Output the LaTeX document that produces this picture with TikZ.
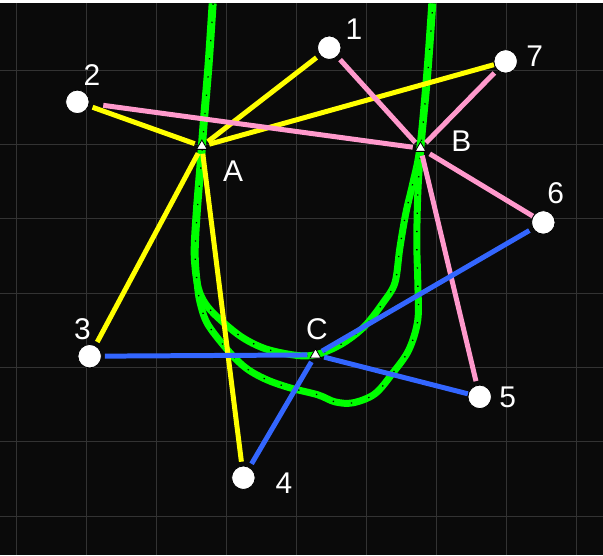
\documentclass[tikz,border=0pt]{standalone}
\usepackage{fontspec}
\setmainfont{Liberation Sans}
\usetikzlibrary{shapes.geometric}
\definecolor{bgc}{HTML}{0A0A0A}
\definecolor{gridc}{HTML}{333333}
\definecolor{yel}{HTML}{FFFF00}
\definecolor{pnk}{HTML}{FF99CC}
\definecolor{blu}{HTML}{3366FF}
\definecolor{grn}{HTML}{00FF00}
\pgfdeclarelayer{bg}
\pgfdeclarelayer{edges}
\pgfsetlayers{bg,edges,main}
\tikzset{
  pt/.style={circle, fill=white, draw=black, line width=0.8pt, minimum size=23.5pt, inner sep=0pt},
  tri/.style={regular polygon, regular polygon sides=3, fill=white, draw=black, line width=0.8pt, minimum size=12.5pt, inner sep=0pt},
  lbl/.style={text=white, inner sep=0pt, font=\fontsize{30}{36}\selectfont},
  edge/.style={line width=5pt, shorten <=4pt, shorten >=4pt},
  yedge/.style={edge, draw=yel},
  pedge/.style={edge, draw=pnk},
  bedge/.style={edge, draw=blu},
  gridline/.style={draw=gridc, line width=1pt},
  greenline/.style={draw=grn, line width=7pt, line join=round,
    postaction={draw=black, line width=1.3pt, dash pattern=on 1.3pt off 17pt}},
}
\begin{document}
\begin{tikzpicture}[x=1pt, y=-1pt]
\begin{pgfonlayer}{bg}
\fill[bgc] (0,0) rectangle (603,552);
\foreach \gx in {16.5,86.5,156.5,226.5,296.5,366.5,436.5,506.5,576.5}
  \draw[gridline] (\gx,0) -- (\gx,552);
\foreach \gy in {66.7,141.2,215.7,290.2,364.7,439.2,513.7}
  \draw[gridline] (0,\gy) -- (603,\gy);
% green curves
\draw[greenline] plot[smooth, tension=0.55] coordinates {
  (212,0) (208,60) (203,120) (200,160) (196,210) (194,250) (197,280)
  (203,297) (215,312) (240,333) (263,345) (287,351) (307,353) (325,349)
  (345,339) (365,323) (383,300) (395,280) (400,245) (406,210) (413,180)
  (420,145) (427,70) (432,0)};
\draw[greenline] plot[smooth, tension=0.55] coordinates {
  (213,0) (209,60) (204,120) (201,160) (197,210) (195,250) (197,280)
  (200,300) (208,322) (230,350) (247,366) (267,377) (290,385) (318,392)
  (335,399) (353,400) (375,391) (393,370) (409,347) (418,317) (418,280)
  (417,240) (418,190) (421,145) (428,70) (433,0)};
\end{pgfonlayer}
% nodes
\node[pt] (n1) at (329.3,44.3) {};
\node[pt] (n2) at (77,98.5) {};
\node[pt] (n3) at (89.3,353.3) {};
\node[pt] (n4) at (243.3,475) {};
\node[pt] (n5) at (480,394) {};
\node[pt] (n6) at (543.7,219.3) {};
\node[pt] (n7) at (506,58) {};
\node[tri] (A) at (201.7,143) {};
\node[tri] (B) at (420.7,145) {};
\node[tri] (C) at (315.5,352) {};
% labels
\node[lbl] (l1) at (354,26) {1};
\node[lbl] (l2) at (91.7,71.7) {2};
\node[lbl] (l3) at (82,326.7) {3};
\node[lbl] (l4) at (284,480) {4};
\node[lbl] (l5) at (508,394) {5};
\node[lbl] (l6) at (556,190) {6};
\node[lbl] (l7) at (535,53) {7};
\node[lbl] (lA) at (233,168) {A};
\node[lbl] (lB) at (461.7,138) {B};
\node[lbl] (lC) at (317,326) {C};
% edges
\begin{pgfonlayer}{edges}
\draw[yedge] (A) -- (n2);
\draw[yedge] (A) -- (n1);
\draw[yedge, shorten >=0pt] (A) -- (n7);
\draw[yedge] (A) -- (n3);
\draw[yedge] (A) -- (n4);
\draw[pedge, shorten >=14pt] (B) -- (n2);
\draw[pedge] (B) -- (n1);
\draw[pedge] (B) -- (n7);
\draw[pedge, shorten >=0pt] (B) -- (n6);
\draw[pedge] (B) -- (n5);
\draw[bedge, shorten >=3pt] (C) -- (n3);
\draw[bedge] (C) -- (n4);
\draw[bedge] (C) -- (n6);
\draw[bedge, shorten >=0pt] (C) -- (n5);
\end{pgfonlayer}
\end{tikzpicture}
\end{document}
